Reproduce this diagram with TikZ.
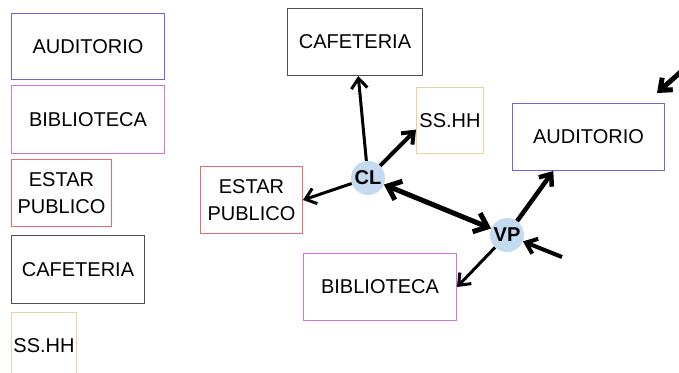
\documentclass[tikz,border=0pt]{standalone}
\usepackage{fontspec}
\setmainfont{Liberation Sans}
\usetikzlibrary{arrows.meta,positioning}
\usepackage{xcolor}
\definecolor{audblue}{RGB}{110,100,220}
\definecolor{bibmag}{RGB}{215,110,225}
\definecolor{estred}{RGB}{232,105,105}
\definecolor{cafgray}{RGB}{80,80,80}
\definecolor{sshorange}{RGB}{245,205,150}
\definecolor{hubblue}{RGB}{195,218,240}

\begin{document}
\begin{tikzpicture}[x=1pt, y=-1pt, font=\fontsize{20}{27}\selectfont,
  room/.style={rectangle, line width=1pt, inner sep=1pt, align=center},
  hub/.style={circle, fill=hubblue, minimum size=34pt, inner sep=0pt, font=\fontsize{20}{22}\selectfont\bfseries},
  link/.style={-{Straight Barb[length=10pt,width=16pt]}, line width=3pt}]
\clip (0,0) rectangle (679,372);

% list of rooms
\node[room, draw=audblue, minimum width=153pt, minimum height=66pt, anchor=north west] (a1) at (11,13) {AUDITORIO};
\node[room, draw=bibmag, minimum width=153pt, minimum height=68pt, below=5pt of a1.south west, anchor=north west] (a2) {BIBLIOTECA};
\node[room, draw=estred, minimum width=100pt, minimum height=67pt, below=5pt of a2.south west, anchor=north west] (a3) {ESTAR\\PUBLICO};
\node[room, draw=cafgray, minimum width=133pt, minimum height=68pt, below=8pt of a3.south west, anchor=north west] (a4) {CAFETERIA};
\node[room, draw=sshorange, minimum width=65pt, minimum height=66pt, below=8pt of a4.south west, anchor=north west] (a5) {SS.HH};

% relations
\node[room, draw=cafgray, minimum width=135pt, minimum height=67pt, anchor=north west] (b1) at (287,8) {CAFETERIA};
\node[room, draw=sshorange, minimum width=67pt, minimum height=66pt, anchor=north west] (b2) at (416,87) {SS.HH};
\node[room, draw=audblue, minimum width=152pt, minimum height=67pt, anchor=north west] (b3) at (512,103) {AUDITORIO};
\node[room, draw=estred, minimum width=102pt, minimum height=67pt, anchor=north west] (b4) at (200,166) {ESTAR\\PUBLICO};
\node[room, draw=bibmag, minimum width=153pt, minimum height=67pt, anchor=north west] (b5) at (303,253) {BIBLIOTECA};

\node[hub] (cl) at (368,178) {CL};
\node[hub] (vp) at (507,235) {VP};

\coordinate (f1) at (562,257);
\coordinate (f2) at (692,62);
\coordinate (f3) at (657,93);

\draw[link] (cl) -- (b1);
\draw[link, line width=4pt] (cl) -- (b2.195);
\draw[link] (cl) -- (b4.east);
\draw[link, line width=5pt, {Straight Barb[length=12pt,width=20pt]}-{Straight Barb[length=12pt,width=20pt]}] (cl) -- (vp);
\draw[link, line width=4.5pt] (vp) -- (b3.224);
\draw[link] (vp) -- (b5.east);
\draw[link, line width=4pt] (f1) -- (vp);
\draw[link, line width=5pt] (f2) -- (f3);
\end{tikzpicture}
\end{document}
